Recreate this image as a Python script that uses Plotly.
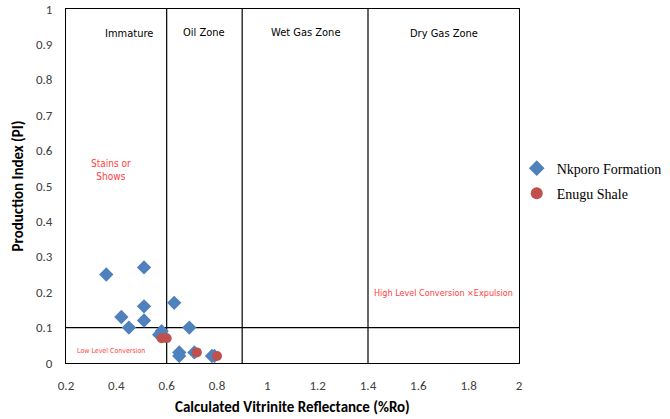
import plotly.graph_objects as go

# Vitrinite reflectance (%Ro) vs production index (PI)
nkporo_ro = [0.36, 0.51, 0.51, 0.42, 0.51, 0.45, 0.63, 0.69, 0.57, 0.58, 0.65, 0.65, 0.71, 0.78, 0.79]
nkporo_pi = [0.25, 0.27, 0.16, 0.13, 0.12, 0.10, 0.17, 0.10, 0.08, 0.09, 0.03, 0.02, 0.03, 0.02, 0.02]
enugu_ro = [0.58, 0.60, 0.72, 0.80]
enugu_pi = [0.07, 0.07, 0.03, 0.02]

zone_bounds = [0.6, 0.9, 1.4]
pi_threshold = 0.1
zone_labels = ["Immature", "Oil Zone", "Wet Gas Zone", "Dry Gas Zone"]
zone_label_x = [0.45, 0.75, 1.15, 1.70]
zone_label_y = [0.93, 0.935, 0.935, 0.93]

x_ticks = [0.2, 0.4, 0.6, 0.8, 1, 1.2, 1.4, 1.6, 1.8, 2]
y_ticks = [0, 0.1, 0.2, 0.3, 0.4, 0.5, 0.6, 0.7, 0.8, 0.9, 1]

blue = "#4F81BD"
red = "#C0504D"
note_red = "#FF4040"
narrow = "Liberation Sans Narrow, DejaVu Sans Condensed, Arial Narrow, sans-serif"
axis_font = "Carlito, Lato, sans-serif"

fig = go.Figure()
fig.add_trace(go.Scatter(
    x=nkporo_ro, y=nkporo_pi, mode="markers", name="Nkporo Formation",
    legendgroup="nkporo",
    marker=dict(symbol="diamond", size=11, color=blue),
))
fig.add_trace(go.Scatter(
    x=enugu_ro, y=enugu_pi, mode="markers", name="Enugu Shale",
    legendgroup="enugu",
    marker=dict(symbol="circle", size=10, color=red),
))

for xb in zone_bounds:
    fig.add_shape(type="line", xref="x", yref="y", x0=xb, x1=xb, y0=0, y1=1,
                  line=dict(color="#000000", width=1.2), layer="below")
fig.add_shape(type="line", xref="x", yref="y", x0=0.2, x1=2, y0=pi_threshold, y1=pi_threshold,
              line=dict(color="#000000", width=1.2), layer="below")

for lab, lx, ly in zip(zone_labels, zone_label_x, zone_label_y):
    fig.add_annotation(x=lx, y=ly, xref="x", yref="y", text=lab, showarrow=False,
                       font=dict(family=narrow, size=11, color="#000000"))

fig.add_annotation(x=0.38, y=0.545, xref="x", yref="y", text="Stains or<br>Shows",
                   showarrow=False, font=dict(family=narrow, size=10, color=note_red))
fig.add_annotation(x=1.70, y=0.198, xref="x", yref="y", text="High Level Conversion ×Expulsion",
                   showarrow=False, font=dict(family=narrow, size=9, color=note_red))
fig.add_annotation(x=0.38, y=0.033, xref="x", yref="y", text="Low Level Conversion",
                   showarrow=False, font=dict(family=narrow, size=7, color=note_red))

# axis titles placed as paper annotations so the plot area keeps fixed margins
fig.add_annotation(x=0.5, y=-0.125, xref="paper", yref="paper", yanchor="middle",
                   text="<b>Calculated Vitrinite Reflectance (%Ro)</b>", showarrow=False,
                   font=dict(family=axis_font, size=15, color="#000000"))
fig.add_annotation(x=-0.105, y=0.5, xref="paper", yref="paper", xanchor="center",
                   text="<b>Production Index (PI)</b>", showarrow=False, textangle=-90,
                   font=dict(family=axis_font, size=15, color="#000000"))

fig.update_layout(
    width=670, height=419,
    margin=dict(l=66, r=151, t=9, b=56, autoexpand=False),
    paper_bgcolor="white", plot_bgcolor="white",
    showlegend=True,
    legend=dict(x=0.995, y=0.514, xanchor="left", yanchor="middle", bgcolor="rgba(0,0,0,0)",
                font=dict(family="Liberation Serif, Times New Roman, serif", size=14, color="#000000"),
                traceorder="grouped", tracegroupgap=4, itemsizing="constant", itemwidth=30),
    xaxis=dict(range=[0.2, 2], tickvals=x_ticks, ticktext=[f"{v:g}" for v in x_ticks],
               showgrid=False, zeroline=False, showline=True, linecolor="#000000", linewidth=1,
               mirror=True, ticks="", ticklabelstandoff=10, automargin=False,
               tickfont=dict(family=axis_font, size=13, color="#404040")),
    yaxis=dict(range=[0, 1], tickvals=y_ticks, ticktext=[f"{v:g}" for v in y_ticks],
               showgrid=False, zeroline=False, showline=True, linecolor="#000000", linewidth=1,
               mirror=True, ticks="", ticklabelstandoff=10, automargin=False,
               tickfont=dict(family=axis_font, size=13, color="#404040")),
)

fig.write_html("out.html")
